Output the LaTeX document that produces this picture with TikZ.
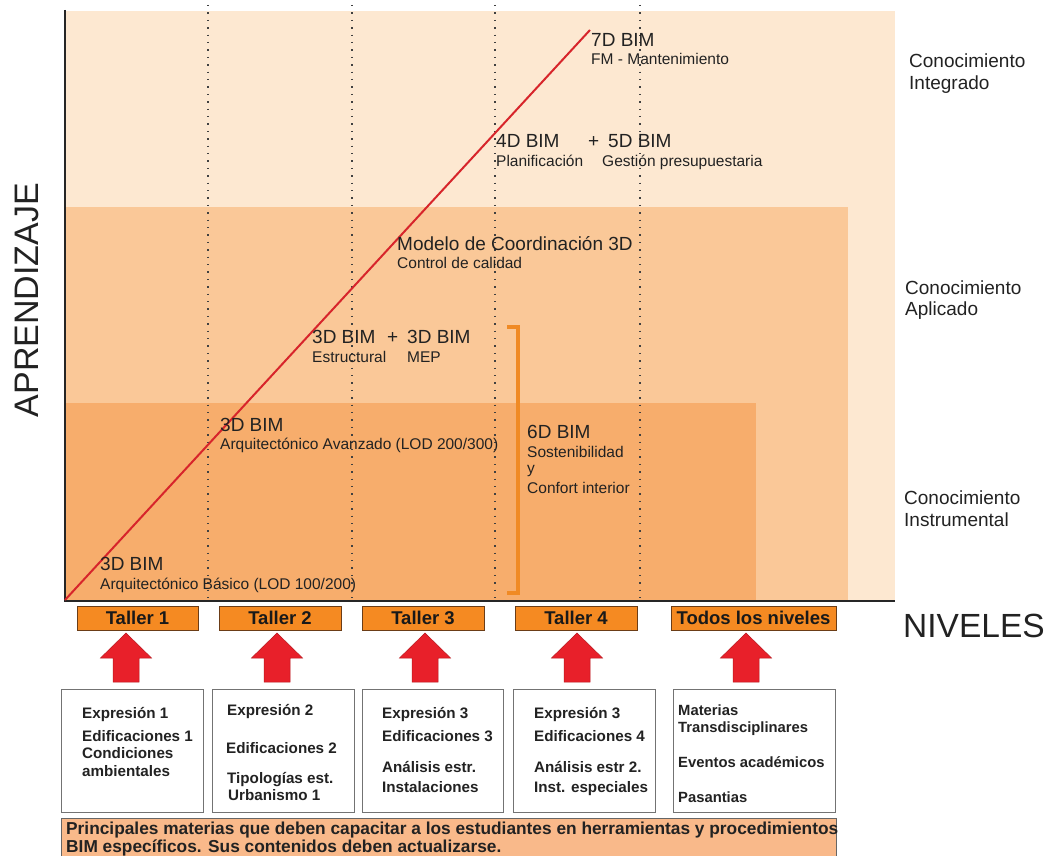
\documentclass[tikz,border=0pt]{standalone}
\usepackage{fontspec}
\setmainfont{Liberation Sans}
\usetikzlibrary{calc}
\definecolor{bgA}{HTML}{FDE8D1}
\definecolor{bgB}{HTML}{FAC898}
\definecolor{bgC}{HTML}{F7AD6C}
\definecolor{txt}{HTML}{222222}
\definecolor{redline}{HTML}{D7252B}
\definecolor{tallerfill}{HTML}{F58A22}
\definecolor{tallerdraw}{HTML}{6B3D17}
\definecolor{arrowred}{HTML}{E8202A}
\definecolor{arrowedge}{HTML}{B8181E}
\definecolor{bannerfill}{HTML}{F9B98A}
\definecolor{bracketcol}{HTML}{F08A24}
\newcommand\blockup[1]{%
  \filldraw[fill=arrowred,draw=arrowedge,line width=0.5pt]
    (#1,633) -- ({#1+25.5},658) -- ({#1+13},658) -- ({#1+13},682) --
    ({#1-13},682) -- ({#1-13},658) -- ({#1-25.5},658) -- cycle;}
\tikzset{
  big/.style={anchor=base west,inner sep=0pt,text=txt,font=\fontsize{19}{21}\selectfont},
  small/.style={anchor=base west,inner sep=0pt,text=txt,font=\fontsize{15.5}{17}\selectfont},
  side/.style={anchor=base west,inner sep=0pt,text=txt,font=\fontsize{19}{21}\selectfont},
  boxtxt/.style={anchor=base west,inner sep=0pt,text=txt,font=\bfseries\fontsize{15.2}{17}\selectfont},
  taller/.style={draw=tallerdraw,fill=tallerfill,line width=0.8pt,minimum height=24pt,inner sep=0pt,
    text=black!90,font=\bfseries\fontsize{18.5}{20}\selectfont},
  subjbox/.style={draw=black!55,fill=white,line width=0.9pt},
  dotline/.style={black!75,line width=1.4pt,dash pattern=on 1.4pt off 6pt},
}
\begin{document}
\begin{tikzpicture}[x=1pt,y=-1pt]
\useasboundingbox (0,0) rectangle (1049,856);
\fill[white] (0,0) rectangle (1049,856);
% background bands
\fill[bgA] (65,11) rectangle (895,601);
\fill[bgB] (65,207) rectangle (848,601);
\fill[bgC] (65,403) rectangle (756,601);
% dotted level separators
\foreach \xx in {208,352,495,640} \draw[dotline] (\xx,5) -- (\xx,598);
% axes
\draw[black!85,line width=2pt] (65,10) -- (65,601) -- (895,601);
% learning line
\coordinate (lo) at (65,600);
\coordinate (hi) at (590,30);
\draw[redline,line width=2pt] (lo) -- (hi);
% bracket
\draw[bracketcol,line width=3.5pt] (507,327) -- (518,327) -- (518,593) -- (507,593);
% labels on the chart
\node[big] (l1a) at (100,570) {3D BIM};
\node[small] (l1b) at (100,589) {Arquitectónico Básico (LOD 100/200)};
\node[big] (l2a) at (220,431) {3D BIM};
\node[small] (l2b) at (220,449) {Arquitectónico Avanzado (LOD 200/300)};
\node[big] (l3a) at (312,343) {3D BIM};
\node[big] (l3p) at (387,343) {+};
\node[big] (l3d) at (407,343) {3D BIM};
\node[small] (l3b) at (312,362) {Estructural};
\node[small] (l3c) at (407,362) {MEP};
\node[big] (l4a) at (397,250) {Modelo de Coordinación 3D};
\node[small] (l4b) at (397,268) {Control de calidad};
\node[big] (l5a) at (496,147) {4D BIM};
\node[big] (l5p) at (588,147) {+};
\node[big] (l5d) at (608,147) {5D BIM};
\node[small] (l5b) at (496,166) {Planificación};
\node[small] (l5c) at (602,166) {Gestión presupuestaria};
\node[big] (l6a) at (591,47) {7D BIM};
\node[small] (l6b) at (591,65) {FM - Mantenimiento};
\node[big] (s6a) at (527,438) {6D BIM};
\node[small] (s6b) at (527,457) {Sostenibilidad};
\node[small] (s6c) at (527,473) {y};
\node[small] (s6d) at (527,493) {Confort interior};
% side labels
\node[side] (k1a) at (909,68) {Conocimiento};
\node[side] (k1b) at (909,90) {Integrado};
\node[side] (k2a) at (905,294) {Conocimiento};
\node[side] (k2b) at (905,315) {Aplicado};
\node[side] (k3a) at (904,504) {Conocimiento};
\node[side] (k3b) at (904,526) {Instrumental};
\node[rotate=90,inner sep=0pt,text=txt,font=\fontsize{34}{36}\selectfont] (ap) at (27,300) {APRENDIZAJE};
\node[anchor=base west,inner sep=0pt,text=txt,font=\fontsize{33.5}{36}\selectfont] (niv) at (903,637) {NIVELES};
% taller boxes
\node[taller,minimum width=121pt] (t1) at (137.5,618) {Taller 1};
\node[taller,minimum width=122pt] (t2) at (280,618) {Taller 2};
\node[taller,minimum width=122pt] (t3) at (423,618) {Taller 3};
\node[taller,minimum width=122pt] (t4) at (576,618) {Taller 4};
\node[taller,minimum width=165pt] (t5) at (753.5,618) {Todos los niveles};
% arrows
\blockup{126}
\blockup{277}
\blockup{425}
\blockup{577}
\blockup{746}
% subject boxes
\draw[subjbox] (61,689) rectangle (203,812);
\draw[subjbox] (212,689) rectangle (354,812);
\draw[subjbox] (362,689) rectangle (503,812);
\draw[subjbox] (513,689) rectangle (655,812);
\draw[subjbox] (673,689) rectangle (835,812);
\node[boxtxt] (b1a) at (82,718) {Expresión 1};
\node[boxtxt] (b1b) at (82,741) {Edificaciones 1};
\node[boxtxt] (b1c) at (82,758) {Condiciones};
\node[boxtxt] (b1d) at (82,776) {ambientales};
\node[boxtxt] (b2a) at (227,715) {Expresión 2};
\node[boxtxt] (b2b) at (226,753) {Edificaciones 2};
\node[boxtxt] (b2c) at (227,783) {Tipologías est.};
\node[boxtxt] (b2d) at (228,800) {Urbanismo 1};
\node[boxtxt] (b3a) at (382,718) {Expresión 3};
\node[boxtxt] (b3b) at (382,741) {Edificaciones 3};
\node[boxtxt] (b3c) at (382,772) {Análisis estr.};
\node[boxtxt] (b3d) at (382,792) {Instalaciones};
\node[boxtxt] (b4a) at (534,718) {Expresión 3};
\node[boxtxt] (b4b) at (534,741) {Edificaciones 4};
\node[boxtxt] (b4c) at (534,772) {Análisis estr 2.};
\node[boxtxt] (b4d) at (534,792) {Inst. especiales};
\node[boxtxt,font=\bfseries\fontsize{14.8}{17}\selectfont] (b5a) at (678,715) {Materias};
\node[boxtxt,font=\bfseries\fontsize{14.8}{17}\selectfont] (b5b) at (678,732) {Transdisciplinares};
\node[boxtxt,font=\bfseries\fontsize{14.8}{17}\selectfont] (b5c) at (678,767) {Eventos académicos};
\node[boxtxt,font=\bfseries\fontsize{14.8}{17}\selectfont] (b5d) at (678,802) {Pasantias};
% banner
\draw[fill=bannerfill,draw=black!60,line width=0.9pt] (61,818) rectangle (836,862);
\node[anchor=base west,inner sep=0pt,text=txt,font=\bfseries\fontsize{17.3}{19}\selectfont] (bn1) at (66,834) {Principales materias que deben capacitar a los estudiantes en herramientas y procedimientos};
\node[anchor=base west,inner sep=0pt,text=txt,font=\bfseries\fontsize{17.3}{19}\selectfont] (bn2) at (66,852) {BIM específicos. Sus contenidos deben actualizarse.};
\end{tikzpicture}
\end{document}
